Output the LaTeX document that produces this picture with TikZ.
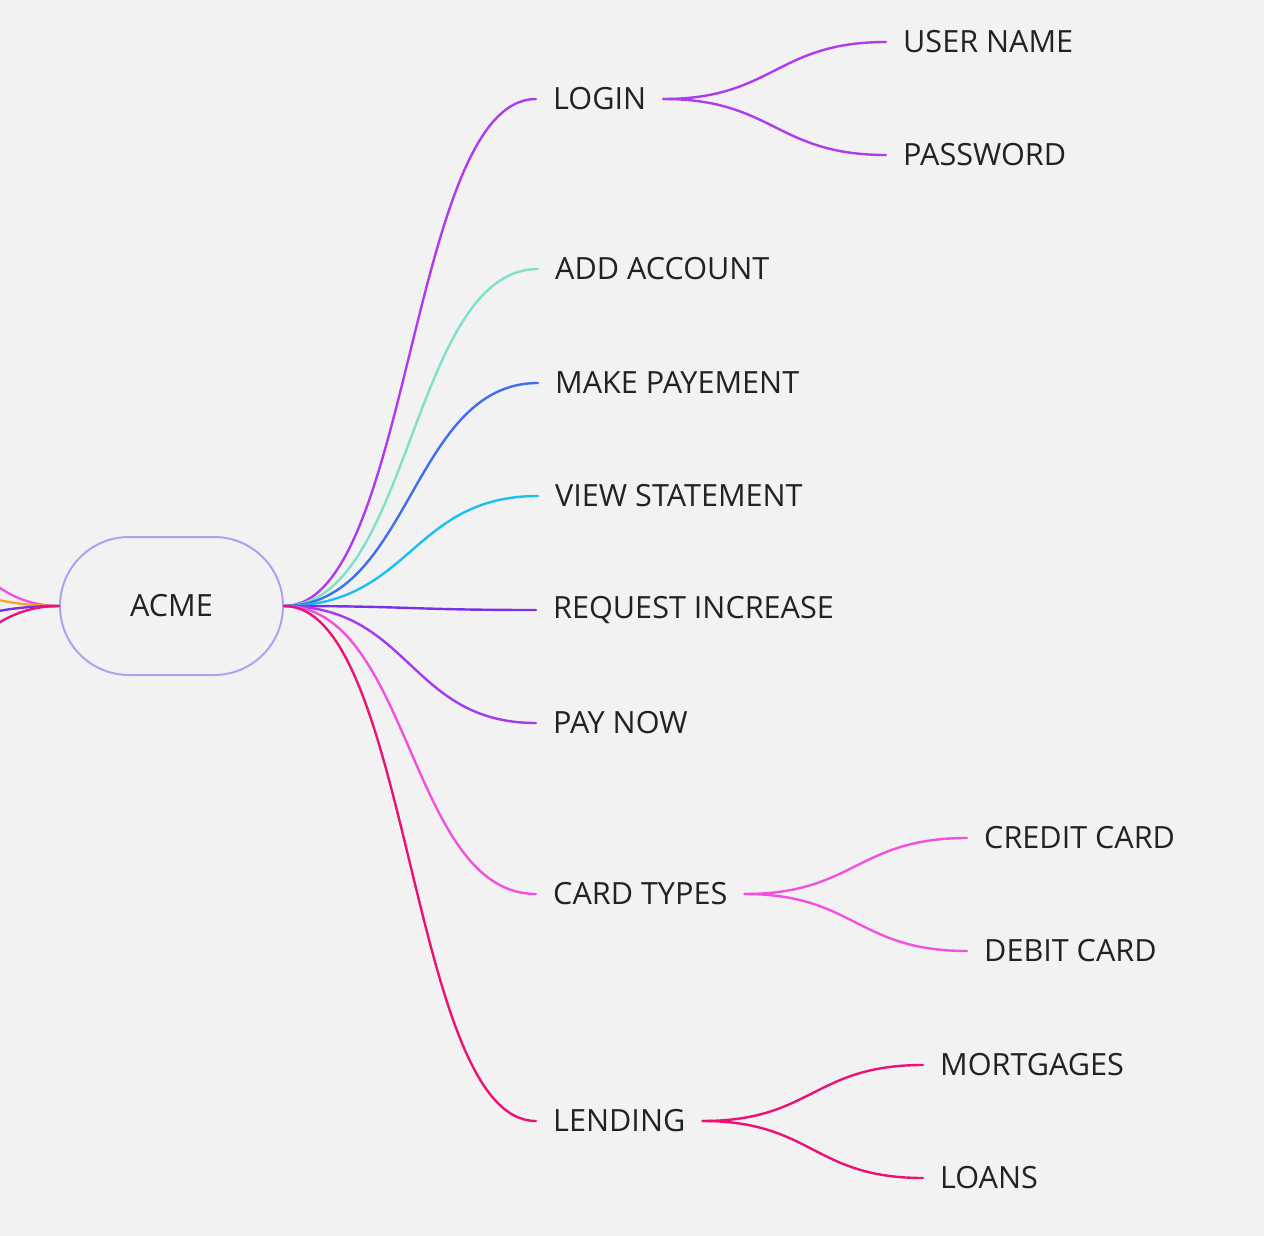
\documentclass[tikz,border=0pt]{standalone}
\usepackage{fontspec}
\setmainfont{Open Sans}
\definecolor{bg}{HTML}{F2F2F2}
\definecolor{txt}{HTML}{222222}
\definecolor{cLogin}{HTML}{B03AEE}
\definecolor{cMint}{HTML}{80E0CC}
\definecolor{cBlue}{HTML}{3F6FEF}
\definecolor{cCyan}{HTML}{1CC0EE}
\definecolor{cViolet}{HTML}{7A30E8}
\definecolor{cPay}{HTML}{A63BEE}
\definecolor{cPink}{HTML}{F251E0}
\definecolor{cCrimson}{HTML}{EC1275}
\definecolor{cOrange}{HTML}{F6A726}
\definecolor{cBorder}{HTML}{A9A4F0}
\begin{document}
\begin{tikzpicture}[x=1pt,y=-1pt,
  lbl/.style={anchor=west,inner xsep=17pt,inner ysep=0pt,text=txt,font=\fontsize{30.6}{36}\selectfont},
  link/.style={line width=2.4pt,line cap=round}]
\clip (0,0) rectangle (1264,1236);
\fill[bg] (0,0) rectangle (1264,1236);

\node[draw=cBorder,line width=2pt,rounded corners=69pt,minimum width=223pt,minimum height=138pt,
      inner sep=0pt,text=txt,font=\fontsize{30.6}{36}\selectfont] (acme) at (171.5,606) {ACME};

\node[lbl] (login) at (536,99) {LOGIN};
\node[lbl] (add) at (538,269) {ADD ACCOUNT};
\node[lbl] (pay) at (538,383) {MAKE PAYEMENT};
\node[lbl] (view) at (538,496) {VIEW STATEMENT};
\node[lbl] (req) at (536,610) {REQUEST INCREASE};
\node[lbl] (paynow) at (536,723) {PAY NOW};
\node[lbl] (card) at (536,894) {CARD TYPES};
\node[lbl] (lend) at (536,1121) {LENDING};

\node[lbl] (user) at (886,42) {USER NAME};
\node[lbl] (pass) at (886,155) {PASSWORD};
\node[lbl] (credit) at (967,838) {CREDIT CARD};
\node[lbl] (debit) at (967,951) {DEBIT CARD};
\node[lbl] (mort) at (923,1065) {MORTGAGES};
\node[lbl] (loans) at (923,1178) {LOANS};

\coordinate (l1) at (-260,273);
\coordinate (l2) at (-260,501);
\coordinate (l3) at (-260,694);
\coordinate (l4) at (-260,904);

% left branches (leaving the picture)
\draw[link,cPink] (acme.west) .. controls +(-160,0) and +(160,0) .. (l1);
\draw[link,cOrange] (acme.west) .. controls +(-160,0) and +(160,0) .. (l2);
\draw[link,cViolet] (acme.west) .. controls +(-160,0) and +(160,0) .. (l3);
\draw[link,cCrimson] (acme.west) .. controls +(-160,0) and +(160,0) .. (l4);

% right branches
\draw[link,cLogin] (acme.east) .. controls +(127,0) and +(-127,0) .. (login.west);
\draw[link,cMint] (acme.east) .. controls +(127,0) and +(-127,0) .. (add.west);
\draw[link,cBlue] (acme.east) .. controls +(127,0) and +(-127,0) .. (pay.west);
\draw[link,cCyan] (acme.east) .. controls +(127,0) and +(-127,0) .. (view.west);
\draw[link,cViolet] (acme.east) .. controls +(127,0) and +(-127,0) .. (req.west);
\draw[link,cPay] (acme.east) .. controls +(127,0) and +(-127,0) .. (paynow.west);
\draw[link,cPink] (acme.east) .. controls +(127,0) and +(-127,0) .. (card.west);
\draw[link,cCrimson] (acme.east) .. controls +(127,0) and +(-127,0) .. (lend.west);

% sub branches
\draw[link,cLogin] (login.east) .. controls +(110,0) and +(-110,0) .. (user.west);
\draw[link,cLogin] (login.east) .. controls +(110,0) and +(-110,0) .. (pass.west);
\draw[link,cPink] (card.east) .. controls +(110,0) and +(-110,0) .. (credit.west);
\draw[link,cPink] (card.east) .. controls +(110,0) and +(-110,0) .. (debit.west);
\draw[link,cCrimson] (lend.east) .. controls +(110,0) and +(-110,0) .. (mort.west);
\draw[link,cCrimson] (lend.east) .. controls +(110,0) and +(-110,0) .. (loans.west);
\end{tikzpicture}
\end{document}
